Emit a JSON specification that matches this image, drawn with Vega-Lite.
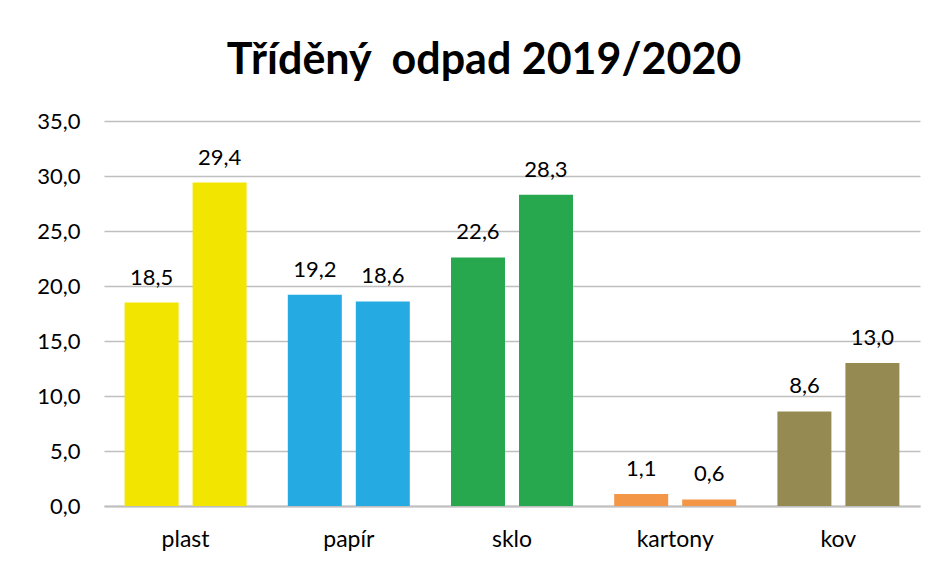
{
  "$schema": "https://vega.github.io/schema/vega-lite/v6.json",
  "autosize": {"type": "none"},
  "width": 816,
  "height": 385,
  "padding": {"left": 104, "top": 121, "right": 26, "bottom": 58},
  "background": "white",
  "config": {
    "locale": {"number": {"decimal": ",", "thousands": " ", "grouping": [3], "currency": ["", " Kč"]}},
    "view": {"stroke": null},
    "font": "Lato"
  },
  "title": {
    "text": "Tříděný\u00a0 odpad 2019/2020",
    "font": "Lato",
    "fontSize": 43,
    "fontWeight": "bold",
    "color": "#000000",
    "anchor": "middle",
    "dx": -28,
    "offset": 27
  },
  "data": {
    "values": [
      {"kategorie": "plast", "rok": "2019", "hodnota": 18.5},
      {"kategorie": "plast", "rok": "2020", "hodnota": 29.4},
      {"kategorie": "papír", "rok": "2019", "hodnota": 19.2},
      {"kategorie": "papír", "rok": "2020", "hodnota": 18.6},
      {"kategorie": "sklo", "rok": "2019", "hodnota": 22.6},
      {"kategorie": "sklo", "rok": "2020", "hodnota": 28.3},
      {"kategorie": "kartony", "rok": "2019", "hodnota": 1.1},
      {"kategorie": "kartony", "rok": "2020", "hodnota": 0.6},
      {"kategorie": "kov", "rok": "2019", "hodnota": 8.6},
      {"kategorie": "kov", "rok": "2020", "hodnota": 13.0}
    ]
  },
  "encoding": {
    "x": {
      "field": "kategorie",
      "type": "nominal",
      "sort": ["plast", "papír", "sklo", "kartony", "kov"],
      "scale": {"paddingInner": 0.2525, "paddingOuter": 0.12625},
      "axis": {
        "title": null,
        "labelAngle": 0,
        "labelFont": "Lato",
        "labelFontSize": 23,
        "labelColor": "#000000",
        "labelPadding": 22,
        "ticks": false,
        "domainColor": "#BFBFBF",
        "domainWidth": 2
      }
    },
    "xOffset": {
      "field": "rok",
      "type": "nominal",
      "scale": {"paddingInner": 0.206, "paddingOuter": 0}
    },
    "y": {
      "field": "hodnota",
      "type": "quantitative",
      "scale": {"domain": [0, 35], "nice": false},
      "axis": {
        "title": null,
        "values": [0, 5, 10, 15, 20, 25, 30, 35],
        "format": ".1f",
        "labelFont": "Lato",
        "labelFontSize": 22,
        "labelColor": "#000000",
        "labelPadding": 24,
        "ticks": false,
        "domain": false,
        "gridColor": "#BFBFBF",
        "gridWidth": 1.5
      }
    },
    "color": {
      "field": "kategorie",
      "type": "nominal",
      "scale": {
        "domain": ["plast", "papír", "sklo", "kartony", "kov"],
        "range": ["#F2E500", "#25AAE2", "#27A84F", "#F39646", "#958A52"]
      },
      "legend": null
    }
  },
  "layer": [
    {"mark": {"type": "bar"}},
    {
      "mark": {"type": "text", "baseline": "alphabetic", "dy": -18, "fontSize": 22, "font": "Lato", "color": "#000000"},
      "encoding": {
        "text": {"field": "hodnota", "type": "quantitative", "format": ".1f"},
        "color": {"value": "#000000"}
      }
    }
  ]
}
